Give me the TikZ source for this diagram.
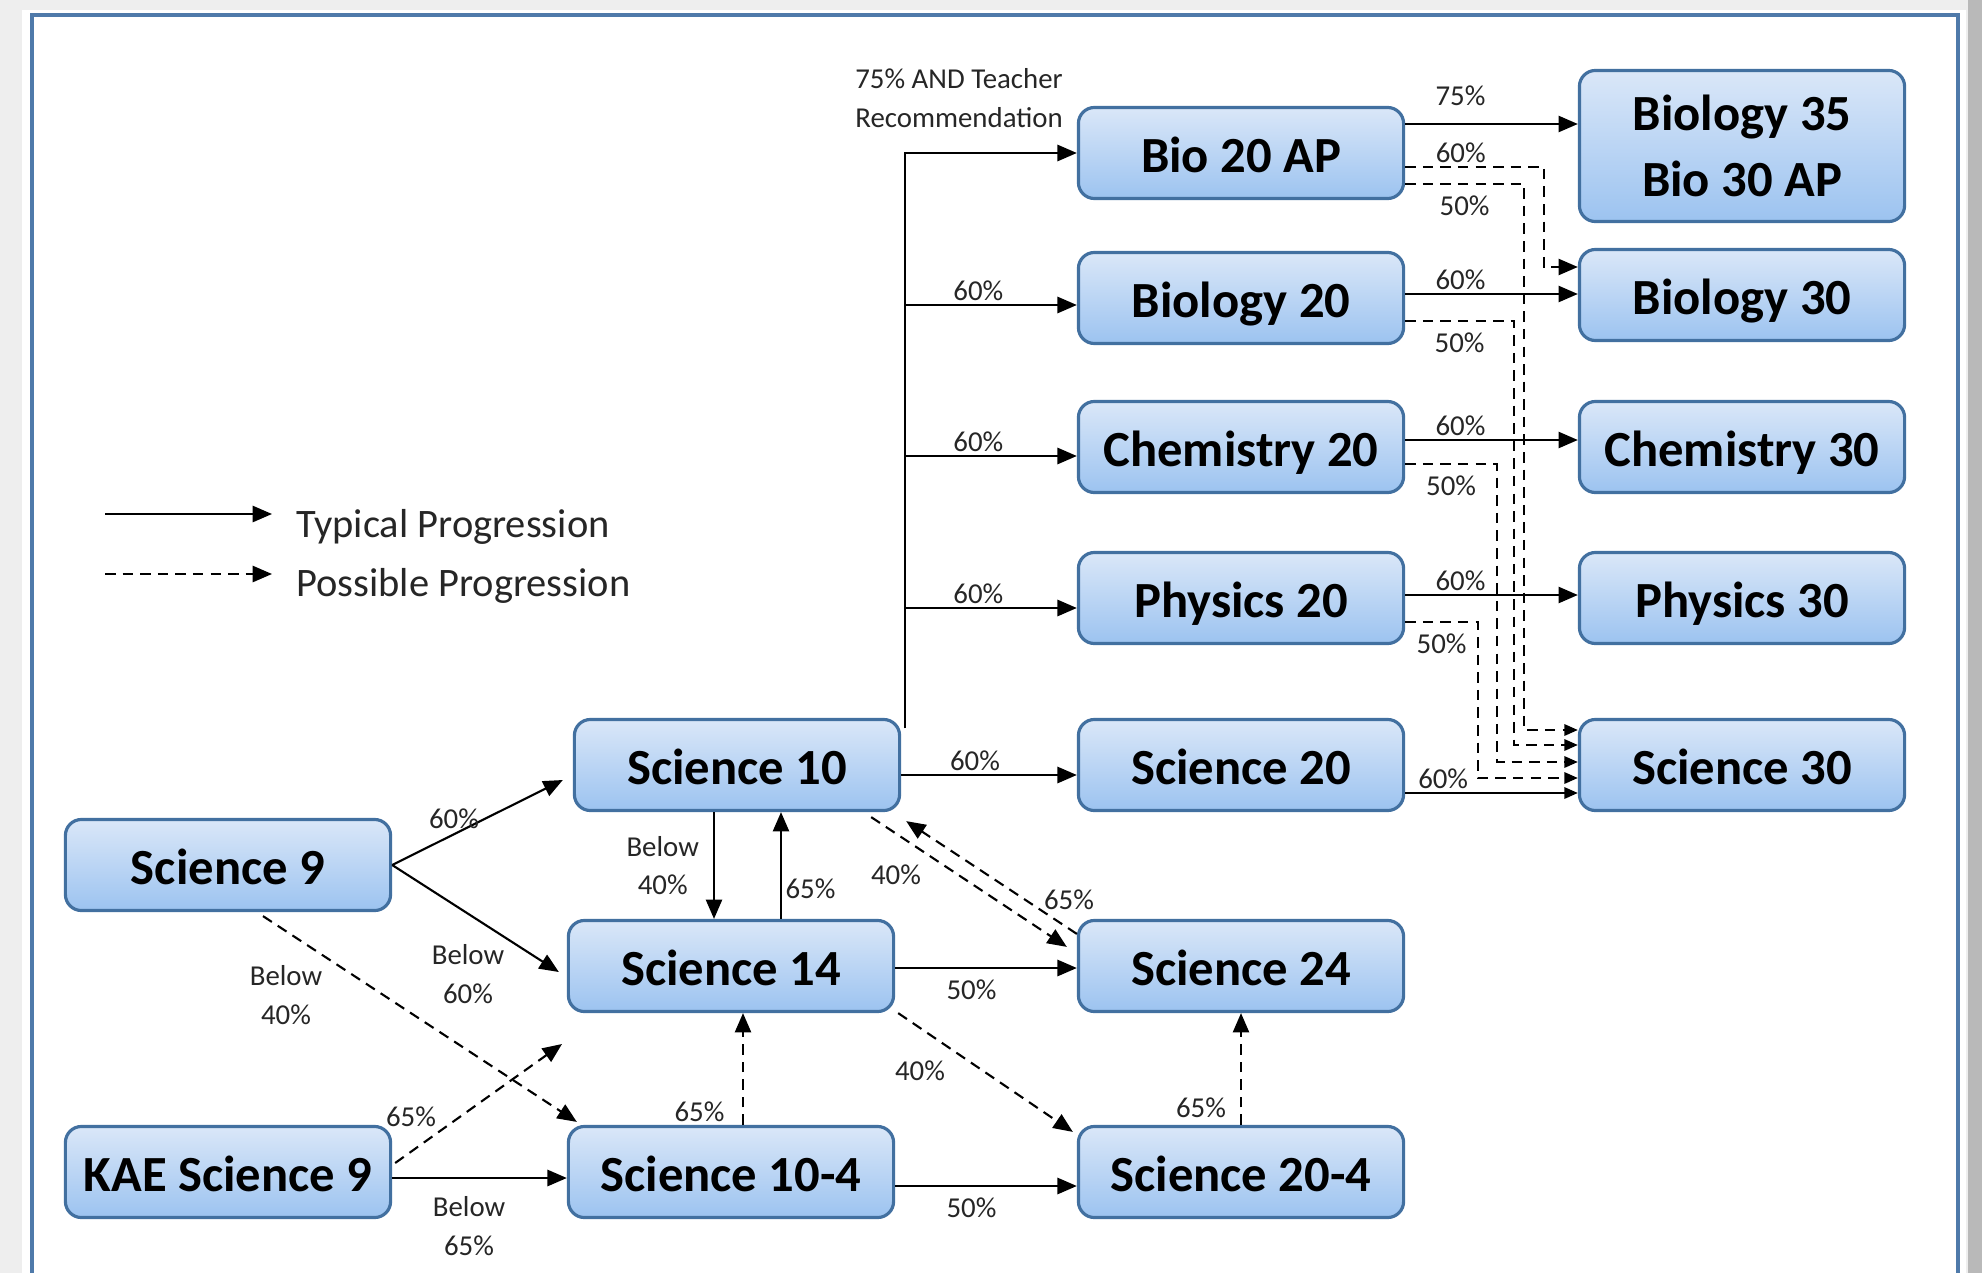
\documentclass[tikz,border=0pt]{standalone}
\usepackage{fontspec}
\setmainfont{Carlito}
\usetikzlibrary{arrows.meta, calc, positioning}

\definecolor{boxtop}{RGB}{218,231,248}
\definecolor{boxbottom}{RGB}{156,195,240}
\definecolor{boxline}{RGB}{66,112,160}
\definecolor{framebg}{RGB}{238,238,238}
\definecolor{frameline}{RGB}{79,122,170}

\begin{document}
\begin{tikzpicture}[
        x=0.01cm, y=-0.01cm, % pixel units, y runs downwards
        course/.style={draw=boxline, line width=0.9pt, rounded corners=0.16cm,
            top color=boxtop, bottom color=boxbottom,
            minimum width=3.25cm, minimum height=0.91cm, align=center,
            text height=11pt, text depth=0pt,
            font=\fontsize{14.4}{18.8}\selectfont\bfseries},
        pct/.style={font=\fontsize{8.2}{11}\selectfont, text=black!85, align=center, inner sep=1pt},
        legendtext/.style={font=\fontsize{11.5}{13}\selectfont, text=black!85, anchor=west},
        typical/.style={line width=0.6pt, -{Triangle[length=5.5pt, width=4.6pt]}},
        possible/.style={typical, dash pattern=on 3pt off 2pt},
        smalltip/.style={-{Triangle[length=3.8pt, width=3.2pt]}}
    ]

        \useasboundingbox (0,0) rectangle (1982,1273);

        % page and frame
        \fill[framebg] (0,0) rectangle (1982,1273);
        \fill[white] (22,10) rectangle (1966,1273);
        \fill[gray!55] (1968,0) rectangle (1982,1273);
        \draw[frameline, line width=1.1pt] (32,1273) -- (32,15) -- (1958,15) -- (1958,1273);

        % Grade 9
        \node[course] (sci9) at (228,865) {Science 9};
        \node[course] (kae9) at (228,1172) {KAE Science 9};

        % Grade 10
        \node[course] (sci10) at (737,765) {Science 10};
        \node[course] (sci14) at (731,966) {Science 14};
        \node[course] (sci104) at (731,1172) {Science 10-4};

        % Grade 11
        \node[course] (bio20ap) at (1241,153) {Bio 20 AP};
        \node[course] (bio20) at (1241,298) {Biology 20};
        \node[course] (chem20) at (1241,447) {Chemistry 20};
        \node[course] (phys20) at (1241,598) {Physics 20};
        \node[course] (sci20) at (1241,765) {Science 20};
        \node[course] (sci24) at (1241,966) {Science 24};
        \node[course] (sci204) at (1241,1172) {Science 20-4};

        % Grade 12
        \node[course, text height=, text depth=, minimum height=1.51cm] (bio35) at (1742,146) {Biology 35\\Bio 30 AP};
        \node[course] (bio30) at (1742,295) {Biology 30};
        \node[course] (chem30) at (1742,447) {Chemistry 30};
        \node[course] (phys30) at (1742,598) {Physics 30};
        \node[course] (sci30) at (1742,765) {Science 30};

        % Legend
        \coordinate (leg-a) at (105,514);
        \coordinate (leg-b) at (272,514);
        \coordinate (leg-c) at (105,574);
        \coordinate (leg-d) at (272,574);
        \draw[typical] (leg-a) -- (leg-b);
        \draw[possible] (leg-c) -- (leg-d);
        \node[legendtext] (leg-typical) at (284,527) {Typical Progression};
        \node[legendtext] (leg-possible) at (284,586) {Possible Progression};

        % Science 10 into the 20 level
        \coordinate (trunk) at (904,153);
        \draw[typical] ([xshift=1pt, yshift=-3pt]sci10.north east) |- (bio20ap.west);
        \node[pct] (ap-req) at (959,98) {75\% AND Teacher\\Recommendation};
        \foreach \course/\y in {bio20/305, chem20/456, phys20/608}
        \draw[typical] (trunk |- 0,\y) -- node[pct, above, pos=0.43] (\course-in) {60\%} (\course.west |- 0,\y);
        \draw[typical] (sci10.east |- 0,775) -- node[pct, above, pos=0.42] (sci20-in) {60\%} (sci20.west |- 0,775);

        % 20 level into the 30 level
        \foreach \from/\to/\y/\p/\gap in {bio20ap/bio35/124/75/4pt, bio20/bio30/294/60/0pt, chem20/chem30/440/60/0pt, phys20/phys30/595/60/0pt}
        \draw[typical] (\from.east |- 0,\y) -- node[pct, above=\gap, pos=0.32] (\from-\p) {\p\%} (\to.west |- 0,\y);
        \draw[typical, smalltip] (sci20.east |- 0,793) -- node[pct, above, pos=0.22] (sci20-60) {60\%} (sci30.west |- 0,793);
        \draw[possible] (bio20ap.east |- 0,167) -- node[pct, above, pos=0.4] (bio20ap-bio30) {60\%} (1544,167) |- (bio30.west |- 0,267);
        \foreach \course/\ya/\xb/\yb in {bio20ap/184/1524/730, bio20/321/1514/745, chem20/464/1497/762, phys20/622/1478/778}
        \draw[possible, smalltip] (\course.east |- 0,\ya) -- node[pct, below=2pt] (\course-50) {50\%} (\xb,\ya) |- (sci30.west |- 0,\yb);

        % Science 9 and KAE Science 9
        \draw[typical] (sci9.east) -- ($(sci10.west)+(-10,15)$);
        \node[pct] (sci9-60) at (454,819) {60\%};
        \draw[typical] (sci9.east) -- ($(sci14.west)+(-8,6)$);
        \node[pct] (sci9-b60) at (468,974) {Below\\60\%};
        \draw[possible] ($(sci9.south)+(35,4)$) -- ($(sci104.north west)+(10,-3)$);
        \node[pct] (sci9-b40) at (286,995) {Below\\40\%};
        \coordinate (kae-tip) at (562,1044);
        \draw[possible] ($(kae9.east)+(3,-9)$) -- (kae-tip);
        \node[pct] (kae9-65) at (411,1117) {65\%};
        \draw[typical] (kae9.east |- 0,1178) -- node[pct, below=4pt, pos=0.44] (kae9-b65) {Below\\65\%} (sci104.west |- 0,1178);

        % Science 10 / 14 / 10-4
        \draw[typical] (sci10.south -| 714,0) -- node[pct, left=3pt] (sci10-b40) {Below\\40\%} (sci14.north -| 714,0);
        \draw[typical] (sci14.north -| 781,0) -- node[pct, right, pos=0.28] (sci14-65) {65\%} (sci10.south -| 781,0);
        \draw[possible] (sci104.north -| 743,0) -- node[pct, left=4pt, pos=0.12] (sci104-65) {65\%} (sci14.south -| 743,0);

        % Science 24 and Science 20-4
        \draw[possible] ($(sci10.south east)+(-30,5)$) -- ($(sci24.north west)+(-10,28)$);
        \node[pct] (sci10-40) at (896,875) {40\%};
        \draw[possible] ($(sci24.north west)+(0,15)$) -- ($(sci10.south east)+(5,9)$);
        \node[pct] (sci24-65) at (1069,900) {65\%};
        \draw[typical] (sci14.east |- 0,968) -- node[pct, below=2pt, pos=0.42] (sci14-50) {50\%} (sci24.west |- 0,968);
        \draw[possible] ($(sci14.south east)+(3,0)$) -- ($(sci204.north west)+(-4,7)$);
        \node[pct] (sci14-40) at (920,1071) {40\%};
        \draw[typical] (sci104.east |- 0,1186) -- node[pct, below=2pt, pos=0.42] (sci104-50) {50\%} (sci204.west |- 0,1186);
        \draw[possible] (sci204.north) -- node[pct, left=3pt, pos=0.15] (sci204-65) {65\%} (sci24.south);

    \end{tikzpicture}
\end{document}
